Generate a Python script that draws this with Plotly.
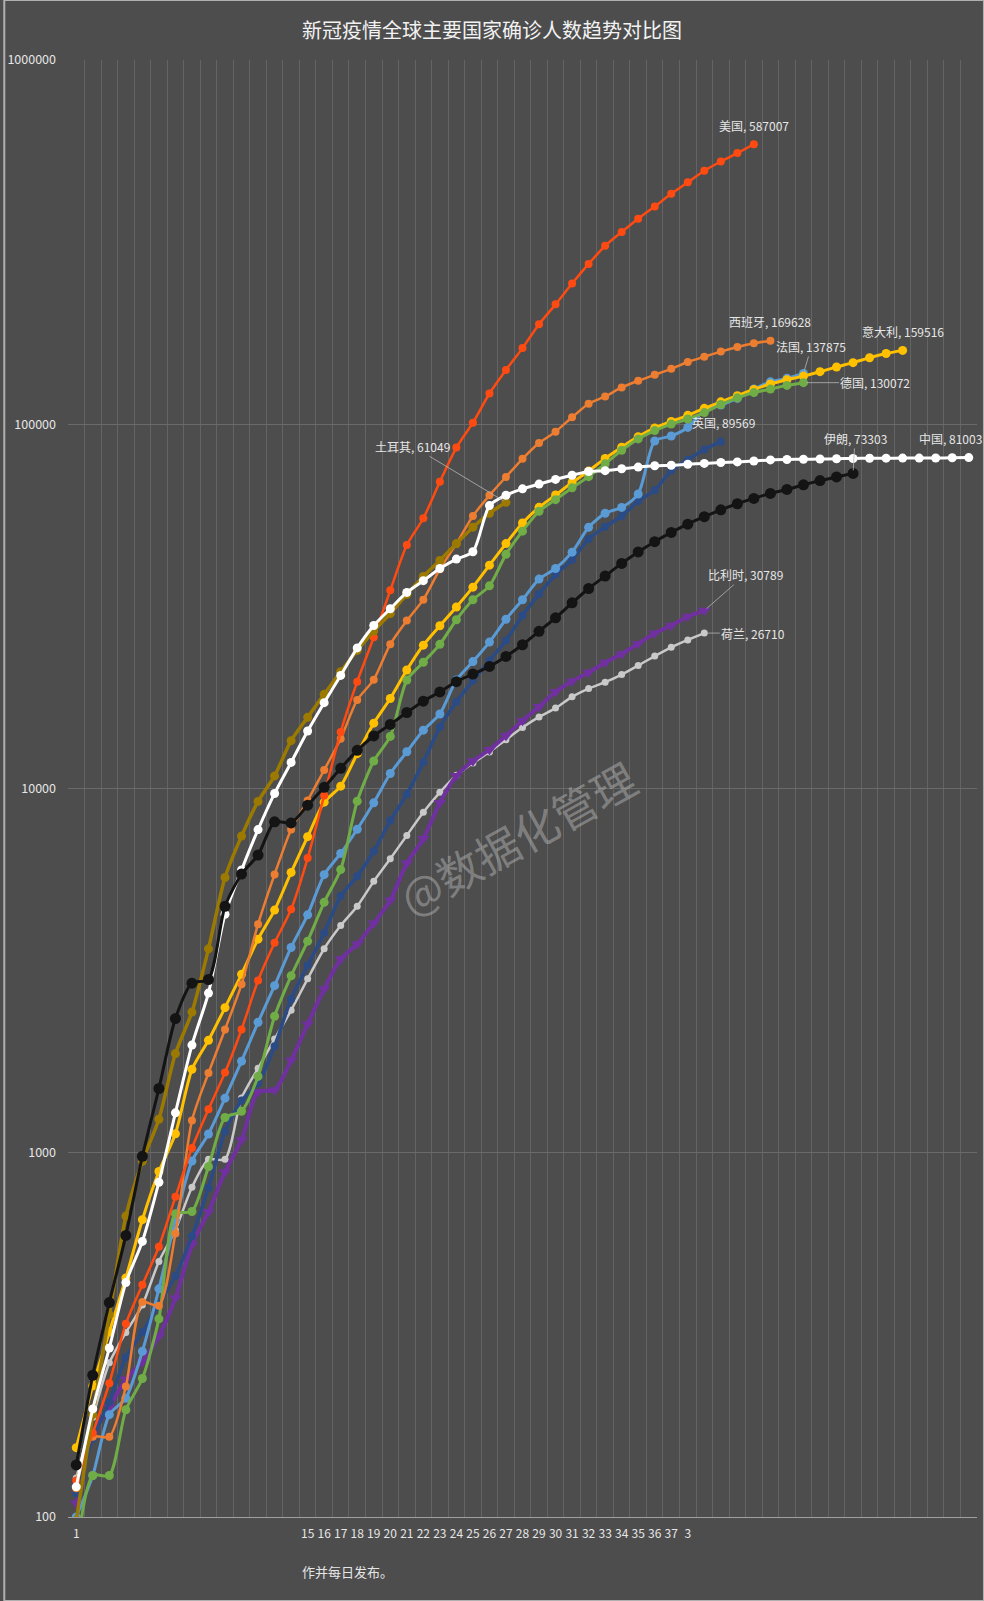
import numpy as np
import plotly.graph_objects as go

# ---------------- data ----------------
days = list(range(1, 56))
x_tick_vals = [1] + list(range(15, 39))
x_tick_text = ["1"] + [str(d) for d in range(15, 38)] + ["3"]
y_tick_vals = [100, 1000, 10000, 100000, 1000000]
y_tick_text = ["100", "1000", "10000", "100000", "1000000"]

title_text = "新冠疫情全球主要国家确诊人数趋势对比图"
footer_text = "作并每日发布。"
watermark_text = "@数据化管理"

countries = ["荷兰", "比利时", "英国", "法国", "意大利", "德国", "西班牙", "美国", "土耳其", "中国", "伊朗"]

netherlands = [128, 188, 265, 321, 382, 503, 614, 804, 959, 960,
               1413, 1705, 2051, 2460, 3003, 3631, 4204, 4749, 5560, 6412,
               7431, 8603, 9762, 10866, 11750, 12595, 13614, 14697, 15723, 16627,
               17851, 18803, 19580, 20549, 21762, 23097, 24413, 25587, 26710]
belgium = [109, 169, 200, 239, 267, 314, 399, 559, 689, 886,
           1085, 1470, 1486, 1795, 2257, 2815, 3401, 3743, 4269, 4937,
           6235, 7284, 9134, 10836, 11899, 12775, 13964, 15348, 16770, 18431,
           19691, 20814, 22194, 23403, 24983, 26667, 28018, 29647, 30789]
uk = [116, 164, 207, 274, 322, 384, 459, 590, 802, 1144,
      1391, 1551, 1960, 2642, 3269, 4014, 5067, 5745, 6726, 8164,
      9640, 11812, 14745, 17312, 19780, 22453, 25481, 29865, 34173, 38689,
      42477, 48436, 52279, 55949, 61474, 65872, 74605, 79874, 85206, 89569]
france = [100, 130, 191, 212, 285, 423, 653, 949, 1126, 1412,
          1784, 2281, 2876, 3661, 4499, 5800, 6633, 7730, 9134, 10995,
          12612, 14459, 16018, 19856, 22304, 25233, 29155, 32964, 37575, 40174,
          44550, 52128, 56989, 59105, 64338, 89953, 92839, 98010, 109069, 112950,
          117749, 124869, 130730, 133670, 137875]
italy = [155, 229, 322, 453, 655, 888, 1128, 1694, 2036, 2502,
         3089, 3858, 4636, 5883, 7375, 9172, 10149, 12462, 15113, 17660,
         21157, 24747, 27980, 31506, 35713, 41035, 47021, 53578, 59138, 63927,
         69176, 74386, 80589, 86498, 92472, 97689, 101739, 105792, 110574, 115242,
         119827, 124632, 128948, 132547, 135586, 139422, 143626, 147577, 152271, 156363,
         159516]
germany = [79, 130, 130, 197, 240, 350, 680, 690, 916, 1250,
           1300, 1620, 2370, 3060, 3810, 4870, 5990, 9230, 11900, 13900,
           19848, 22213, 24873, 29056, 32986, 36000, 43938, 50871, 57695, 62095,
           66885, 71808, 77872, 84794, 91159, 96092, 100123, 103374, 107663, 113296,
           118181, 122171, 124908, 127854, 130072]
spain = [120, 166, 166, 228, 389, 380, 600, 1226, 1655, 2180,
         2900, 4240, 5810, 7720, 9270, 11240, 13700, 17500, 19900, 24900,
         28900, 33000, 40000, 47000, 56000, 63800, 71700, 80400, 88800, 95400,
         104500, 113800, 119199, 126168, 131646, 136675, 141942, 148220, 153222, 158273,
         163027, 166831, 169628]
usa = [126, 170, 233, 339, 434, 552, 757, 1030, 1316, 1660,
       2180, 2970, 3770, 4660, 6440, 9570, 14300, 19650, 26000, 35000,
       46600, 55200, 69500, 86300, 101000, 121478, 140886, 161807, 188172, 213372,
       243453, 275586, 308850, 337072, 366667, 396223, 429052, 461437, 496535, 526396,
       555313, 587007]
turkey = [98, 191, 359, 670, 947, 1236, 1872, 2433, 3629, 5698,
          7402, 9217, 10827, 13531, 15679, 18135, 20921, 23934, 27069, 30217,
          34109, 38226, 42282, 47029, 52167, 56956, 61049]
china = [121, 198, 291, 440, 571, 830, 1287, 1975, 2744, 4515,
         5974, 7711, 9692, 11791, 14380, 17205, 20438, 24324, 28018, 31161,
         34546, 37198, 40171, 42638, 44653, 59804, 63851, 66492, 68500, 70548,
         72436, 74185, 74576, 75465, 76288, 76936, 77150, 77658, 78064, 78497,
         78824, 79251, 79824, 80026, 80151, 80270, 80409, 80552, 80651, 80695,
         80735, 80754, 80778, 80920, 81003]
iran = [139, 245, 388, 593, 978, 1501, 2336, 2922, 2990, 4747,
        5823, 6566, 8100, 8042, 9000, 10075, 11364, 12729, 13938, 14991,
        16169, 17361, 18407, 19644, 20610, 21638, 23049, 24811, 27017, 29406,
        32332, 35408, 38309, 41495, 44605, 47593, 50468, 53183, 55743, 58226,
        60500, 62589, 64586, 66220, 68192, 70029, 71686, 73303]

values = {"荷兰": netherlands, "比利时": belgium, "英国": uk, "法国": france,
          "意大利": italy, "德国": germany, "西班牙": spain, "美国": usa,
          "土耳其": turkey, "中国": china, "伊朗": iran}

# ---------------- styles ----------------
style = {
    "荷兰":  dict(color="#c9c9c9", symbol="circle", size=7, width=2.5),
    "比利时": dict(color="#7030a0", symbol="triangle-down", size=11, width=4),
    "英国":  dict(color="#2a4b85", symbol="circle", size=8, width=3.5),
    "法国":  dict(color="#5b9bd5", symbol="circle", size=9, width=3),
    "意大利": dict(color="#ffc000", symbol="circle", size=9, width=3),
    "德国":  dict(color="#70ad47", symbol="circle", size=9, width=3),
    "西班牙": dict(color="#ed7d31", symbol="circle", size=8, width=2.5),
    "美国":  dict(color="#ff4b12", symbol="circle", size=8, width=2.5),
    "土耳其": dict(color="#9c7a00", symbol="circle", size=9, width=3.5),
    "中国":  dict(color="#ffffff", symbol="circle", size=9, width=3),
    "伊朗":  dict(color="#141414", symbol="circle", size=11, width=3),
}
# label placement: (kind, dx, dy) pixels
label_pos = {
    "美国": ("above", 0, 19), "西班牙": ("above", 0, 19), "意大利": ("above", 0, 19),
    "英国": ("above", 3, 19), "中国": ("above", -18, 19),
    "法国": ("arrow", 8, -27), "德国": ("arrow", 72, 0), "伊朗": ("arrow", 2, -35),
    "土耳其": ("arrow", -93, -56), "比利时": ("arrow", 41, -36), "荷兰": ("arrow", 49, 0),
}

BG = "#4d4d4d"
GRID = "#646464"
TXT = "#e6e6e6"
FONT = "Microsoft YaHei, Noto Sans CJK SC, sans-serif"

fig = go.Figure()
for name in countries:
    vals = values[name]
    st = style[name]
    fig.add_trace(go.Scatter(
        x=days[:len(vals)], y=vals, mode="lines+markers", name=name,
        line=dict(color=st["color"], width=st["width"], shape="spline", smoothing=0.7),
        marker=dict(color=st["color"], symbol=st["symbol"], size=st["size"]),
        showlegend=False,
    ))

for name in countries:
    vals = values[name]
    kind, dx, dy = label_pos[name]
    txt = f"{name}, {vals[-1]}"
    base = dict(x=len(vals), y=np.log10(vals[-1]), xref="x", yref="y", text=txt,
                font=dict(size=12, color=TXT, family=FONT))
    if kind == "above":
        fig.add_annotation(**base, showarrow=False, xshift=dx, yshift=dy)
    else:
        fig.add_annotation(**base, showarrow=True, ax=dx, ay=dy, axref="pixel", ayref="pixel",
                           arrowhead=0, arrowwidth=0.8, arrowcolor="#b5b5b5", standoff=3)

# watermark
fig.add_annotation(x=0.494, y=0.467, xref="paper", yref="paper", text=watermark_text,
                   showarrow=False, textangle=-29,
                   font=dict(size=44, color="rgba(200,200,200,0.42)", family=FONT))
# footer
fig.add_annotation(x=0.255, y=-0.0377, xref="paper", yref="paper", text=footer_text,
                   showarrow=False, xanchor="left", yanchor="middle",
                   font=dict(size=13, color=TXT, family=FONT))
# outer border
fig.add_shape(type="rect", xref="paper", yref="paper",
              x0=-64 / 913, x1=(984 - 64) / 913, y0=-84 / 1457, y1=(1601 - 84) / 1457,
              line=dict(color="#b0b0b0", width=2), fillcolor="rgba(0,0,0,0)", layer="above")

fig.update_layout(
    width=984, height=1601,
    margin=dict(l=64, r=7, t=60, b=84),
    paper_bgcolor=BG, plot_bgcolor=BG,
    font=dict(family=FONT, color=TXT),
    title=dict(text=title_text, x=0.5, xanchor="center", y=1 - 31 / 1601, yanchor="middle",
               yref="container", font=dict(size=20, color="#f2f2f2", family=FONT)),
    showlegend=False,
)
fig.update_xaxes(
    range=[0.5, 55.5], tickmode="array", tickvals=x_tick_vals, ticktext=x_tick_text,
    showgrid=False, zeroline=False, showline=True, linecolor="#a0a0a0", linewidth=1,
    ticks="", ticklabelstandoff=6, tickfont=dict(size=12, color=TXT),
    minor=dict(tickmode="array", tickvals=[d - 0.5 for d in days] + [55.5],
               showgrid=True, gridcolor=GRID, gridwidth=1, ticks=""),
)
fig.update_yaxes(
    type="log", range=[2, 6], tickmode="array", tickvals=y_tick_vals, ticktext=y_tick_text,
    showgrid=True, gridcolor="#6a6a6a", gridwidth=1, zeroline=False, showline=False,
    ticks="", ticklabelstandoff=11, tickfont=dict(size=12.5, color=TXT),
)

fig.write_html("out.html")
